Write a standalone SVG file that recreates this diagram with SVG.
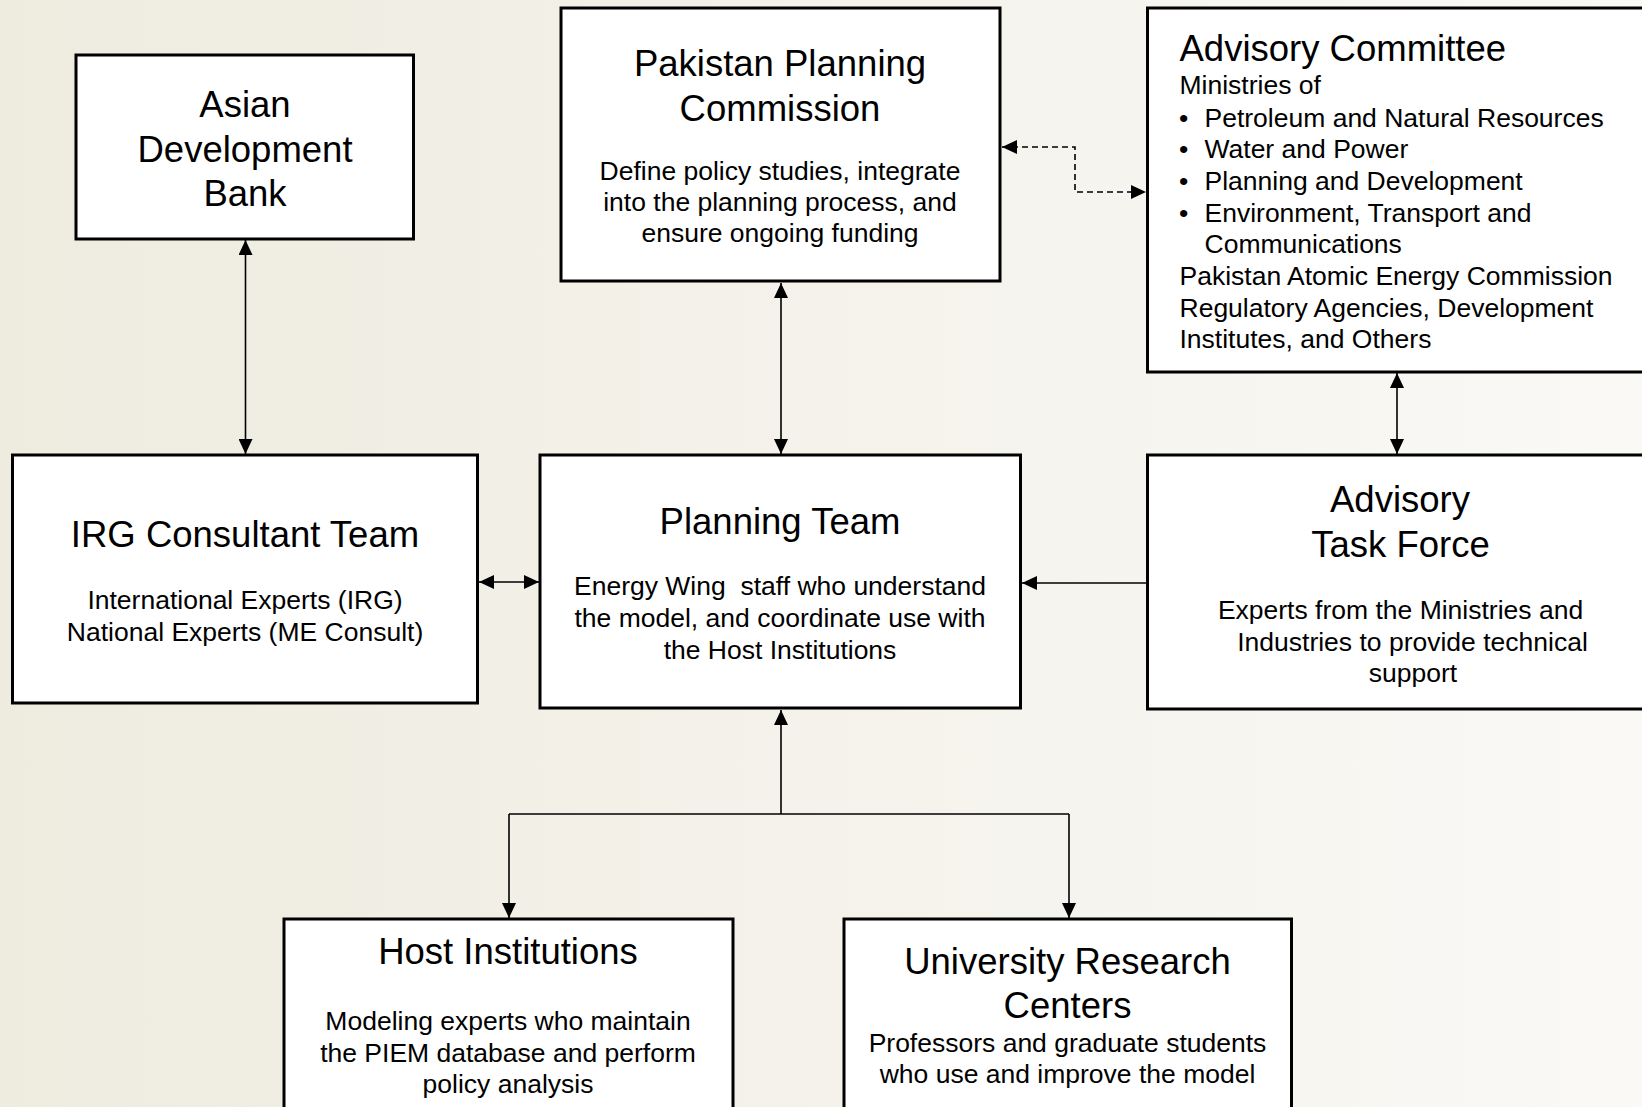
<svg xmlns="http://www.w3.org/2000/svg" width="1642" height="1107" viewBox="0 0 1642 1107">
<defs>
<linearGradient id="bg" x1="0" y1="0" x2="1" y2="0">
<stop offset="0" stop-color="#EEEBDF"/>
<stop offset="1" stop-color="#FAF9F6"/>
</linearGradient>
<marker id="ah" viewBox="0 0 15 14" markerWidth="15" markerHeight="14" refX="15" refY="7" orient="auto-start-reverse" markerUnits="userSpaceOnUse">
<path d="M0,0 L15,7 L0,14 z" fill="#000" stroke="none"/>
</marker>
<style>
.box{fill:#fff;stroke:#000;stroke-width:3}
.t{font-family:"Liberation Sans",Arial,sans-serif;font-size:36.5px;fill:#000;text-anchor:middle}
.d{font-family:"Liberation Sans",Arial,sans-serif;font-size:26.5px;fill:#000;text-anchor:middle}
.l{font-family:"Liberation Sans",Arial,sans-serif;font-size:26.5px;fill:#000}
.lt{font-family:"Liberation Sans",Arial,sans-serif;font-size:36.5px;fill:#000}
.c{fill:none;stroke:#000;stroke-width:1.6}
.dash{stroke-dasharray:6 4}
</style>
</defs>
<rect x="0" y="0" width="1642" height="1107" fill="url(#bg)"/>

<g id="connectors">
<line class="c" x1="245.5" y1="240" x2="245.5" y2="454" marker-start="url(#ah)" marker-end="url(#ah)"/>
<line class="c" x1="781" y1="283" x2="781" y2="454" marker-start="url(#ah)" marker-end="url(#ah)"/>
<line class="c" x1="1397" y1="373" x2="1397" y2="454" marker-start="url(#ah)" marker-end="url(#ah)"/>
<line class="c" x1="479" y1="582" x2="539" y2="582" marker-start="url(#ah)" marker-end="url(#ah)"/>
<line class="c" x1="1147" y1="583" x2="1022" y2="583" marker-end="url(#ah)"/>
<path class="c dash" d="M1002,147 L1075,147 L1075,192 L1146,192" marker-start="url(#ah)" marker-end="url(#ah)"/>
<path class="c" d="M781,814 L781,710" marker-end="url(#ah)"/>
<path class="c" d="M509,814 L1069,814"/>
<path class="c" d="M509,814 L509,918" marker-end="url(#ah)"/>
<path class="c" d="M1069,814 L1069,918" marker-end="url(#ah)"/>
</g>

<g id="adb">
<rect class="box" x="76" y="55" width="337.5" height="184"/>
<text class="t" x="245" y="117">Asian</text>
<text class="t" x="245" y="161.5">Development</text>
<text class="t" x="245" y="206">Bank</text>
</g>

<g id="ppc">
<rect class="box" x="561" y="8" width="439" height="273"/>
<text class="t" x="780" y="76">Pakistan Planning</text>
<text class="t" x="780" y="120.5">Commission</text>
<text class="d" x="780" y="180">Define policy studies, integrate</text>
<text class="d" x="780" y="211">into the planning process, and</text>
<text class="d" x="780" y="241.5">ensure ongoing funding</text>
</g>

<g id="advisory-committee">
<rect class="box" x="1147.5" y="8" width="500" height="364"/>
<text class="lt" x="1179.5" y="61">Advisory Committee</text>
<text class="l" x="1179.5" y="94">Ministries of</text>
<text class="l" x="1179" y="126.5">•</text>
<text class="l" x="1204.5" y="126.5">Petroleum and Natural Resources</text>
<text class="l" x="1179" y="158">•</text>
<text class="l" x="1204.5" y="158">Water and Power</text>
<text class="l" x="1179" y="190">•</text>
<text class="l" x="1204.5" y="190">Planning and Development</text>
<text class="l" x="1179" y="221.5">•</text>
<text class="l" x="1204.5" y="221.5">Environment, Transport and</text>
<text class="l" x="1204.5" y="252.5">Communications</text>
<text class="l" x="1179.5" y="285">Pakistan Atomic Energy Commission</text>
<text class="l" x="1179.5" y="316.5">Regulatory Agencies, Development</text>
<text class="l" x="1179.5" y="348">Institutes, and Others</text>
</g>

<g id="irg">
<rect class="box" x="12.5" y="455" width="465" height="248"/>
<text class="t" x="245" y="546.5">IRG Consultant Team</text>
<text class="d" x="245" y="609">International Experts (IRG)</text>
<text class="d" x="245" y="641">National Experts (ME Consult)</text>
</g>

<g id="planning-team">
<rect class="box" x="540" y="455" width="480.5" height="253"/>
<text class="t" x="780" y="534">Planning Team</text>
<text class="d" x="780" y="595" xml:space="preserve">Energy Wing  staff who understand</text>
<text class="d" x="780" y="627">the model, and coordinate use with</text>
<text class="d" x="780" y="659">the Host Institutions</text>
</g>

<g id="task-force">
<rect class="box" x="1147.5" y="455" width="530" height="254"/>
<text class="t" x="1400" y="511.5">Advisory</text>
<text class="t" x="1400.5" y="556.5">Task Force</text>
<text class="d" x="1400.5" y="619">Experts from the Ministries and</text>
<text class="d" x="1412.5" y="651">Industries to provide technical</text>
<text class="d" x="1413" y="682">support</text>
</g>

<g id="host">
<rect class="box" x="284" y="919" width="449" height="200"/>
<text class="t" x="508" y="964">Host Institutions</text>
<text class="d" x="508" y="1030">Modeling experts who maintain</text>
<text class="d" x="508" y="1061.5">the PIEM database and perform</text>
<text class="d" x="508" y="1093">policy analysis</text>
</g>

<g id="university">
<rect class="box" x="844" y="919" width="447.5" height="200"/>
<text class="t" x="1067.5" y="974">University Research</text>
<text class="t" x="1067.5" y="1018">Centers</text>
<text class="d" x="1067.5" y="1052">Professors and graduate students</text>
<text class="d" x="1067.5" y="1083">who use and improve the model</text>
</g>
</svg>
